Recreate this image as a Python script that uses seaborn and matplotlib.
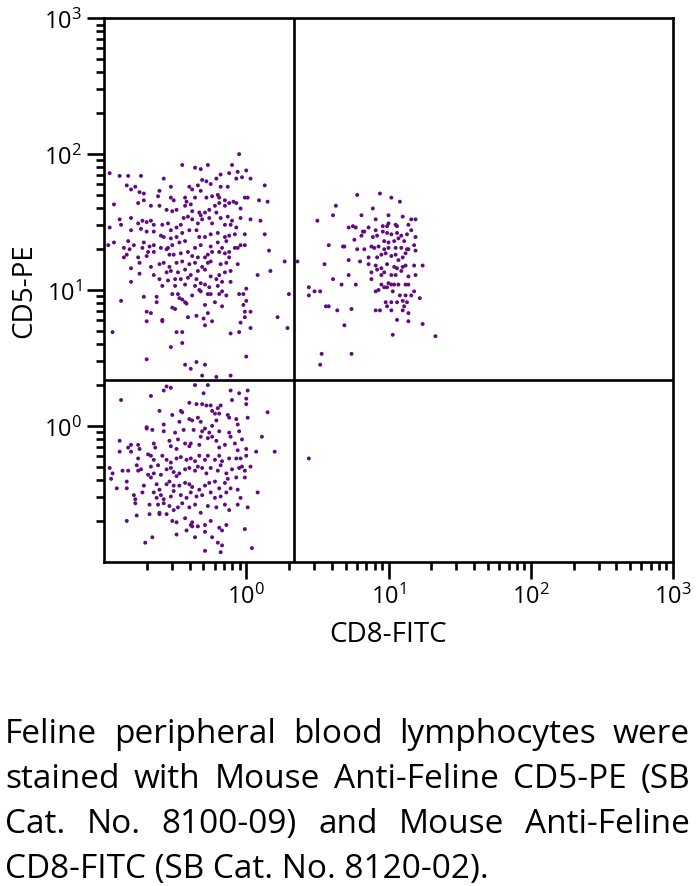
import numpy as np
import pandas as pd
import seaborn as sns
import matplotlib.pyplot as plt
from matplotlib.ticker import LogLocator, NullFormatter

# log10 fluorescence, one pair of lists per population
# CD5+ CD8- (upper left)
ul_cd8 = [-0.05, -0.45, -0.27, -0.10, -0.36, -0.32, -0.96, -0.89, -0.83, -0.74, -0.58, -0.31, -0.28, -0.21,
          -0.18, -0.12, -0.06, 0.00, -0.07, -0.03, 0.03, -0.84, -0.81, -0.78, -0.75, -0.72, -0.61, -0.53,
          -0.40, -0.38, -0.34, -0.25, -0.18, -0.13, -0.32, -0.20, -0.28, -0.53, -0.51, -0.43, -0.42, -0.36,
          -0.24, -0.19, -0.15, -0.09, -0.01, 0.01, 0.09, 0.15, 0.13, -0.93, -0.76, -0.72, -0.62, -0.67,
          -0.61, -0.56, -0.52, -0.49, -0.43, -0.39, -0.38, -0.33, -0.32, -0.29, -0.26, -0.22, -0.19, -0.15,
          -0.12, -0.07, -0.04, -0.21, -0.13, -0.10, -0.04, 0.03, 0.10, -0.89, -0.81, -0.76, -0.73, -0.70,
          -0.67, -0.65, -0.59, -0.55, -0.53, -0.49, -0.46, -0.44, -0.41, -0.38, -0.34, -0.31, -0.26, -0.24,
          -0.18, -0.15, -0.11, -0.07, -0.96, -0.88, -0.81, -0.74, -0.70, -0.65, -0.60, -0.58, -0.53, -0.49,
          -0.45, -0.40, -0.35, -0.33, -0.29, -0.25, -0.20, -0.15, -0.12, -0.08, -0.01, 0.13, -0.83, -0.79,
          -0.72, -0.73, -0.68, -0.65, -0.60, -0.55, -0.52, -0.47, -0.43, -0.36, -0.32, -0.25, -0.20, -0.17,
          -0.14, -0.06, -0.04, -0.01, 0.16, -0.97, -0.93, -0.86, -0.82, -0.84, -0.86, -0.76, -0.70, -0.69,
          -0.65, -0.56, -0.54, -0.51, -0.46, -0.41, -0.38, -0.34, -0.29, -0.27, -0.24, -0.19, -0.15, -0.12,
          -0.08, -0.81, -0.75, -0.67, -0.61, -0.58, -0.54, -0.49, -0.45, -0.40, -0.36, -0.31, -0.27, -0.25,
          -0.18, -0.14, -0.12, -0.06, 0.27, 0.17, 0.08, -0.75, -0.65, -0.56, -0.53, -0.48, -0.43, -0.39,
          -0.34, -0.29, -0.25, -0.19, -0.15, -0.11, -0.81, -0.61, -0.55, -0.50, -0.46, -0.41, -0.35, -0.32,
          -0.21, -0.17, -0.11, -0.59, -0.50, -0.43, -0.36, -0.29, -0.26, -0.20, -0.33, -0.32, -0.27, -0.25,
          -0.19, -0.17, -0.14, -0.52, -0.48, -0.45, -0.43, -0.42, -0.47, -0.63, -0.63, -0.72, -0.38, -0.29,
          -0.22, -0.17, -0.05, -0.02, 0.00, 0.00, -0.02, -0.01, 0.03, 0.30, -0.88, -0.52, -0.50, -0.70,
          -0.67, -0.59, -0.59, -0.70, -0.41, -0.35, -0.30, -0.29, -0.27, -0.24, -0.04, -0.01, 0.03, 0.22,
          0.29, -0.94, -0.49, -0.45, -0.11, -0.05, -0.53, -0.45, 0.00, -0.70, -0.43, -0.39, -0.35, -0.29,
          -0.31, -0.21, -0.11]
ul_cd5 = [2.00, 1.92, 1.92, 1.92, 1.90, 1.89, 1.86, 1.84, 1.84, 1.84, 1.82, 1.81, 1.80, 1.82,
          1.85, 1.86, 1.87, 1.88, 1.82, 1.83, 1.82, 1.77, 1.74, 1.76, 1.72, 1.71, 1.73, 1.76,
          1.76, 1.74, 1.77, 1.78, 1.76, 1.76, 1.73, 1.70, 1.68, 1.68, 1.66, 1.68, 1.65, 1.68,
          1.69, 1.68, 1.66, 1.65, 1.68, 1.68, 1.66, 1.65, 1.77, 1.63, 1.64, 1.66, 1.69, 1.62,
          1.62, 1.59, 1.58, 1.59, 1.62, 1.63, 1.58, 1.57, 1.55, 1.57, 1.59, 1.62, 1.64, 1.62,
          1.64, 1.64, 1.60, 1.57, 1.54, 1.51, 1.53, 1.52, 1.51, 1.52, 1.53, 1.49, 1.51, 1.50,
          1.51, 1.48, 1.48, 1.49, 1.44, 1.46, 1.48, 1.53, 1.54, 1.52, 1.49, 1.52, 1.53, 1.49,
          1.53, 1.48, 1.48, 1.46, 1.46, 1.48, 1.44, 1.45, 1.43, 1.43, 1.40, 1.39, 1.38, 1.39,
          1.42, 1.44, 1.44, 1.39, 1.39, 1.41, 1.42, 1.39, 1.40, 1.41, 1.41, 1.41, 1.36, 1.33,
          1.35, 1.31, 1.32, 1.33, 1.31, 1.31, 1.33, 1.35, 1.36, 1.31, 1.33, 1.32, 1.35, 1.31,
          1.36, 1.31, 1.33, 1.33, 1.29, 1.33, 1.35, 1.31, 1.30, 1.26, 1.24, 1.24, 1.25, 1.28,
          1.28, 1.30, 1.26, 1.26, 1.27, 1.28, 1.25, 1.24, 1.24, 1.26, 1.28, 1.28, 1.27, 1.28,
          1.31, 1.16, 1.20, 1.17, 1.19, 1.20, 1.17, 1.20, 1.21, 1.19, 1.20, 1.17, 1.20, 1.21,
          1.19, 1.20, 1.24, 1.19, 1.21, 1.14, 1.11, 1.12, 1.11, 1.13, 1.14, 1.13, 1.15, 1.11,
          1.14, 1.15, 1.10, 1.11, 1.13, 1.14, 1.06, 1.08, 1.07, 1.08, 1.08, 1.09, 1.08, 1.05,
          1.08, 1.06, 1.06, 1.03, 1.03, 1.04, 1.03, 1.04, 1.02, 1.03, 1.00, 0.99, 0.97, 0.97,
          0.97, 0.99, 0.96, 0.97, 0.97, 0.93, 0.91, 0.90, 0.94, 0.95, 0.91, 0.95, 0.96, 0.89,
          0.91, 0.88, 0.97, 0.97, 1.01, 0.92, 0.89, 0.84, 0.84, 0.97, 0.92, 0.87, 0.86, 0.84,
          0.83, 0.78, 0.77, 0.77, 0.80, 0.81, 0.79, 0.74, 0.83, 0.77, 0.76, 0.80, 0.72, 0.80,
          0.72, 0.69, 0.69, 0.69, 0.68, 0.69, 0.58, 0.61, 0.51, 0.49, 0.45, 0.42, 0.47, 0.45,
          0.37, 0.36, 0.37]

# CD5- CD8- (lower left)
ll_cd8 = [-0.56, -0.53, -0.36, -0.27, -0.58, -0.30, -0.11, -0.05, 0.01, -0.67, -0.88, -0.10, 0.00, -0.40,
          -0.35, -0.31, -0.28, -0.25, -0.20, -0.18, 0.00, -0.61, -0.52, -0.46, -0.45, -0.24, -0.22, -0.19,
          0.15, -0.58, -0.47, -0.40, -0.38, -0.34, -0.32, -0.21, -0.12, -0.13, -0.07, -0.06, 0.01, -0.70,
          -0.66, -0.58, -0.50, -0.44, -0.37, -0.31, -0.29, -0.26, -0.24, -0.19, -0.12, -0.11, -0.05, -0.03,
          0.11, -0.70, -0.89, -0.81, -0.76, -0.75, -0.83, -0.65, -0.64, -0.54, -0.53, -0.49, -0.48, -0.43,
          -0.40, -0.39, -0.33, -0.32, -0.27, -0.24, -0.21, -0.19, -0.15, -0.08, -0.06, 0.00, 0.07, 0.20,
          -0.89, -0.81, -0.69, -0.67, -0.76, -0.65, -0.59, -0.56, -0.53, -0.49, -0.46, -0.42, -0.39, -0.36,
          -0.33, -0.29, -0.27, -0.22, -0.19, -0.17, -0.12, -0.07, -0.04, 0.00, 0.03, -0.96, -0.94, -0.87,
          -0.83, -0.77, -0.76, -0.74, -0.67, -0.62, -0.69, -0.67, -0.65, -0.60, -0.56, -0.53, -0.51, -0.47,
          -0.49, -0.43, -0.40, -0.36, -0.34, -0.31, -0.28, -0.25, -0.20, -0.18, -0.14, -0.10, -0.05, -0.03,
          -0.01, -0.01, -0.07, -0.95, -0.91, -0.84, -0.84, -0.72, -0.63, -0.61, -0.56, -0.54, -0.51, -0.47,
          -0.43, -0.40, -0.38, -0.33, -0.29, -0.26, -0.22, -0.19, -0.15, -0.13, -0.11, -0.06, -0.79, -0.78,
          -0.78, -0.73, -0.65, -0.63, -0.60, -0.58, -0.53, -0.51, -0.46, -0.42, -0.39, -0.35, -0.31, -0.25,
          -0.22, -0.18, -0.14, -0.06, -0.04, 0.01, 0.08, -0.68, -0.62, -0.61, -0.58, -0.54, -0.51, -0.48,
          -0.45, -0.40, -0.36, -0.32, -0.27, -0.21, -0.15, -0.12, -0.77, -0.68, -0.61, -0.56, -0.52, -0.49,
          -0.43, -0.39, -0.38, -0.34, -0.29, -0.25, -0.19, -0.14, -0.84, -0.49, -0.42, -0.38, -0.29, -0.24,
          -0.17, -0.01, -0.71, -0.66, -0.36, -0.20, -0.17, -0.18, -0.29, 0.04]
ll_cd5 = [0.29, 0.28, 0.30, 0.30, 0.26, 0.24, 0.26, 0.24, 0.26, 0.22, 0.19, 0.19, 0.20, 0.17,
          0.16, 0.16, 0.15, 0.15, 0.13, 0.15, 0.16, 0.11, 0.08, 0.11, 0.10, 0.11, 0.09, 0.09,
          0.10, 0.01, 0.03, 0.05, 0.04, 0.06, 0.03, 0.04, 0.06, 0.08, 0.05, 0.01, 0.06, -0.01,
          -0.03, -0.04, -0.05, -0.03, -0.03, -0.04, -0.02, -0.05, 0.00, -0.04, -0.05, -0.08, -0.04, -0.10,
          -0.08, -0.02, -0.11, -0.14, -0.14, -0.17, -0.16, -0.13, -0.16, -0.11, -0.15, -0.17, -0.10, -0.13,
          -0.15, -0.13, -0.14, -0.08, -0.09, -0.08, -0.11, -0.16, -0.14, -0.13, -0.18, -0.17, -0.19, -0.19,
          -0.19, -0.19, -0.21, -0.22, -0.24, -0.25, -0.22, -0.25, -0.27, -0.24, -0.23, -0.25, -0.24, -0.26,
          -0.22, -0.25, -0.22, -0.25, -0.22, -0.26, -0.24, -0.24, -0.24, -0.22, -0.30, -0.31, -0.35, -0.33,
          -0.33, -0.29, -0.33, -0.32, -0.30, -0.29, -0.36, -0.38, -0.35, -0.36, -0.32, -0.31, -0.34, -0.35,
          -0.37, -0.32, -0.31, -0.33, -0.30, -0.31, -0.35, -0.31, -0.33, -0.29, -0.35, -0.32, -0.31, -0.30,
          -0.33, -0.38, -0.38, -0.39, -0.46, -0.41, -0.46, -0.44, -0.43, -0.47, -0.43, -0.41, -0.44, -0.44,
          -0.42, -0.43, -0.45, -0.47, -0.44, -0.42, -0.41, -0.46, -0.42, -0.39, -0.46, -0.47, -0.51, -0.54,
          -0.57, -0.49, -0.49, -0.53, -0.51, -0.54, -0.52, -0.48, -0.51, -0.53, -0.49, -0.52, -0.51, -0.49,
          -0.53, -0.52, -0.49, -0.58, -0.53, -0.60, -0.49, -0.58, -0.58, -0.64, -0.57, -0.59, -0.62, -0.60,
          -0.57, -0.60, -0.58, -0.64, -0.59, -0.60, -0.58, -0.62, -0.66, -0.65, -0.65, -0.65, -0.70, -0.71,
          -0.68, -0.73, -0.71, -0.74, -0.73, -0.70, -0.75, -0.73, -0.70, -0.80, -0.77, -0.74, -0.78, -0.82,
          -0.77, -0.76, -0.86, -0.82, -0.82, -0.86, -0.88, -0.93, -0.92, -0.90]

# CD5+ CD8+ (upper right) and the single stray event below it
ur_cd8 = [0.78, 0.94, 1.02, 1.08, 0.63, 0.89, 0.61, 0.81, 1.00, 0.50, 0.91, 1.10, 1.16, 1.19,
          1.00, 0.72, 0.75, 0.77, 0.82, 0.86, 0.91, 0.96, 0.99, 1.05, 1.06, 1.14, 0.76, 0.81,
          0.83, 0.89, 0.92, 0.96, 0.99, 1.02, 1.06, 1.09, 1.13, 1.16, 1.19, 0.97, 1.00, 1.04,
          1.07, 1.11, 1.18, 0.58, 0.68, 0.69, 0.78, 0.83, 0.88, 0.90, 0.93, 0.97, 1.00, 1.05,
          1.09, 1.13, 1.14, 1.19, 0.92, 0.95, 0.98, 1.02, 1.05, 1.07, 1.10, 1.12, 0.86, 0.36,
          0.55, 0.72, 0.80, 0.86, 0.91, 0.95, 0.99, 1.04, 1.06, 1.10, 1.12, 1.18, 1.24, 0.88,
          0.92, 0.95, 0.97, 1.02, 1.05, 1.09, 1.14, 1.19, 0.61, 0.72, 0.88, 1.00, 1.02, 1.04,
          1.07, 1.12, 1.14, 0.67, 0.77, 0.95, 0.97, 0.44, 0.91, 0.93, 0.99, 1.03, 1.08, 1.12,
          1.16, 1.18, 1.22, 0.44, 0.48, 0.52, 0.98, 1.02, 1.06, 1.10, 1.13, 1.11, 0.99, 0.56,
          0.58, 0.74, 0.64, 0.91, 0.94, 1.02, 1.10, 1.14, 1.06, 1.14, 1.24, 0.69, 1.03, 1.33,
          0.53, 0.74, 0.52, 0.44]
ur_cd5 = [1.70, 1.71, 1.68, 1.65, 1.62, 1.60, 1.55, 1.55, 1.55, 1.51, 1.52, 1.54, 1.52, 1.52,
          1.49, 1.46, 1.47, 1.46, 1.43, 1.46, 1.44, 1.47, 1.47, 1.48, 1.47, 1.48, 1.37, 1.40,
          1.43, 1.39, 1.40, 1.43, 1.42, 1.41, 1.42, 1.40, 1.41, 1.44, 1.39, 1.36, 1.35, 1.36,
          1.38, 1.36, 1.33, 1.33, 1.32, 1.32, 1.30, 1.30, 1.32, 1.31, 1.32, 1.30, 1.31, 1.31,
          1.31, 1.30, 1.30, 1.29, 1.24, 1.26, 1.27, 1.25, 1.26, 1.22, 1.24, 1.27, 1.24, 1.21,
          1.19, 1.22, 1.21, 1.19, 1.18, 1.16, 1.19, 1.17, 1.16, 1.17, 1.18, 1.18, 1.18, 1.13,
          1.15, 1.11, 1.13, 1.11, 1.11, 1.14, 1.10, 1.11, 1.08, 1.11, 1.08, 1.05, 1.04, 1.04,
          1.04, 1.04, 1.04, 1.04, 1.04, 1.04, 1.02, 1.02, 0.99, 1.00, 1.02, 0.99, 0.96, 0.96,
          0.96, 0.99, 0.94, 0.96, 0.99, 0.99, 0.91, 0.91, 0.91, 0.92, 0.91, 0.88, 0.88, 0.88,
          0.88, 0.86, 0.85, 0.85, 0.85, 0.85, 0.85, 0.83, 0.78, 0.77, 0.75, 0.74, 0.67, 0.66,
          0.53, 0.53, 0.45, -0.24]

gate_cd8 = 2.15   # vertical quadrant marker
gate_cd5 = 2.18   # horizontal quadrant marker
major_ticks = [1, 10, 100, 1000]
major_labels = [r'$10^{0}$', r'$10^{1}$', r'$10^{2}$', r'$10^{3}$']

caption_lines = ["Feline peripheral blood lymphocytes were",
                 "stained with Mouse Anti-Feline CD5-PE (SB",
                 "Cat. No. 8100-09) and Mouse Anti-Feline",
                 "CD8-FITC (SB Cat. No. 8120-02)."]

purple = '#620a82'

df = pd.DataFrame({
    'CD8': 10 ** np.array(ul_cd8 + ll_cd8 + ur_cd8),
    'CD5': 10 ** np.array(ul_cd5 + ll_cd5 + ur_cd5),
})

sns.set_style('ticks')
plt.rcParams['font.family'] = ['Open Sans', 'DejaVu Sans']
plt.rcParams['mathtext.fontset'] = 'custom'
plt.rcParams['mathtext.rm'] = 'Open Sans'
plt.rcParams['mathtext.it'] = 'Open Sans'
plt.rcParams['text.color'] = 'black'
plt.rcParams['axes.labelcolor'] = 'black'
plt.rcParams['xtick.color'] = 'black'
plt.rcParams['ytick.color'] = 'black'

fig = plt.figure(figsize=(7, 8.87), dpi=100)
ax = fig.add_axes([104 / 700, 1 - 562.7 / 887, 569 / 700, 543.4 / 887])

sns.scatterplot(data=df, x='CD8', y='CD5', ax=ax, s=8, color=purple,
                edgecolor='none', linewidth=0, legend=False)
ax.set_xscale('log')
ax.set_yscale('log')
ax.set_xlim(0.1, 1000)
ax.set_ylim(0.1, 1000)

ax.axvline(gate_cd8, color='black', lw=1.9)
ax.axhline(gate_cd5, color='black', lw=1.9)

for axis in (ax.xaxis, ax.yaxis):
    axis.set_minor_locator(LogLocator(base=10, subs=np.arange(2, 10), numticks=20))
    axis.set_minor_formatter(NullFormatter())
ax.set_xticks(major_ticks, labels=major_labels)
ax.set_yticks(major_ticks, labels=major_labels)
ax.tick_params(which='major', length=12, width=1.9, color='black', labelcolor='black', labelsize=17)
ax.tick_params(which='minor', length=6, width=1.9, color='black')
ax.tick_params(axis='x', which='major', pad=4)
ax.tick_params(axis='y', which='major', pad=4)
for sp in ax.spines.values():
    sp.set_color('black')
    sp.set_linewidth(1.9)

ax.set_xlabel('CD8-FITC', fontsize=20, labelpad=8, color='black')
ax.set_ylabel('CD5-PE', fontsize=20, labelpad=4, color='black')

# justified caption under the plot
renderer = fig.canvas.get_renderer()
cap_left, cap_right = 5 / 700, 690 / 700
baselines = [743, 788, 833, 878]
for i, line in enumerate(caption_lines):
    yb = 1 - baselines[i] / 887
    if i == len(caption_lines) - 1:
        fig.text(cap_left, yb, line, fontsize=24, va='baseline', ha='left', color='black')
        continue
    words = line.split()
    texts = [fig.text(0, yb, w, fontsize=24, va='baseline', ha='left', color='black') for w in words]
    widths = [t.get_window_extent(renderer).width / fig.bbox.width for t in texts]
    gap = (cap_right - cap_left - sum(widths)) / (len(words) - 1)
    xpos = cap_left
    for t, w in zip(texts, widths):
        t.set_x(xpos)
        xpos += w + gap

fig.savefig('out.png', dpi=100)
